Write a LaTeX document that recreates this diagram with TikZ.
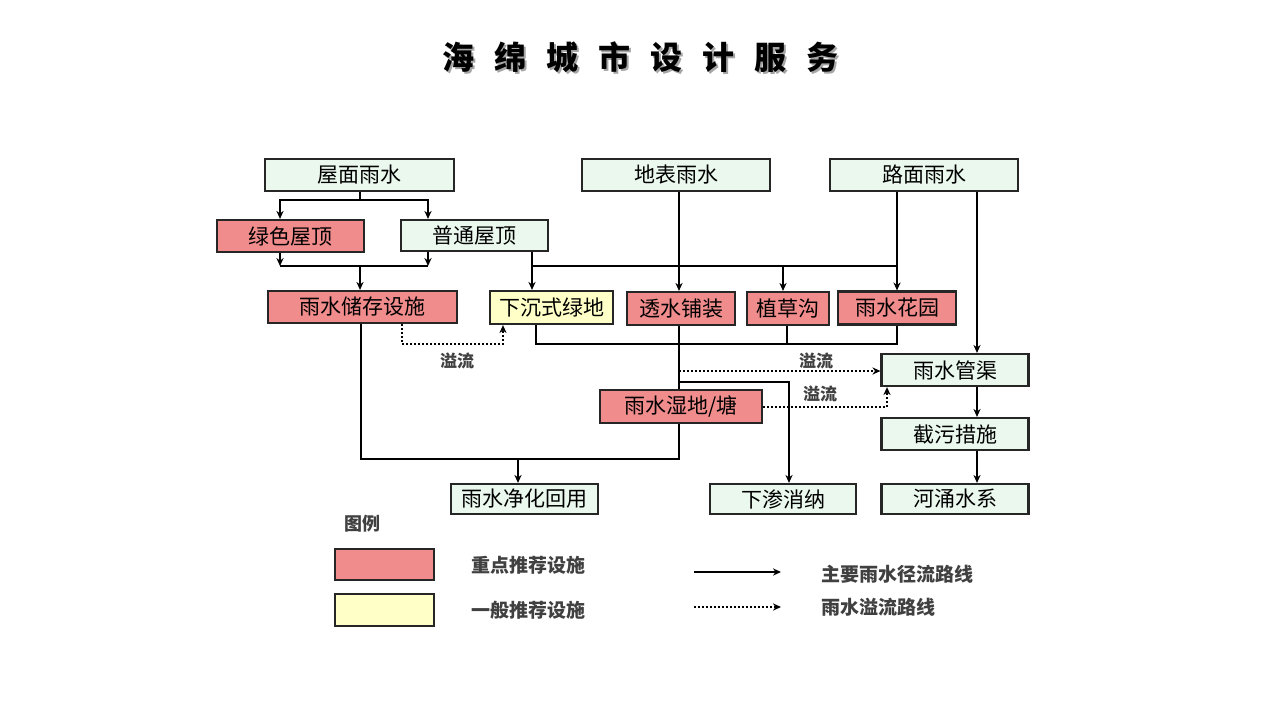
\documentclass[tikz,border=0pt]{standalone}
\usepackage{fontspec}
\setmainfont{Noto Sans CJK SC}
\usetikzlibrary{arrows.meta}

\definecolor{boxgreen}{RGB}{234,248,238}
\definecolor{boxred}{RGB}{240,140,140}
\definecolor{boxyellow}{RGB}{255,255,200}

\begin{document}
\begin{tikzpicture}
	[x=0.5pt, y=-0.5pt, line width=1pt,
	>={Stealth[length=4pt,width=3.6pt]},
	box/.style={draw=black!85, line width=1.1pt, fill=boxgreen, inner sep=0pt,
		minimum height=16pt, font=\fontsize{10.5}{10.5}\selectfont},
	facbox/.style={box, fill=boxred},
	optbox/.style={box, fill=boxyellow},
	spill/.style={dash pattern=on 1pt off 1pt, line width=1.1pt},
	note/.style={font=\fontsize{8.5}{8.5}\selectfont\bfseries, text=black!75},
	legtext/.style={anchor=west, inner sep=0pt, font=\fontsize{9.5}{9.5}\selectfont\bfseries, text=black!75}]
	\useasboundingbox (0,0) rectangle (1280,720);
	% title
	\node (shadow) [text=black!35, font=\fontsize{16}{16}\selectfont\bfseries] at (642,59)
		{海\hspace{10pt}绵\hspace{10pt}城\hspace{10pt}市\hspace{10pt}设\hspace{10pt}计\hspace{10pt}服\hspace{10pt}务};
	\node (title) [font=\fontsize{16}{16}\selectfont\bfseries] at (640,57)
		{海\hspace{10pt}绵\hspace{10pt}城\hspace{10pt}市\hspace{10pt}设\hspace{10pt}计\hspace{10pt}服\hspace{10pt}务};
	% sources
	\node (wmys) [box, minimum width=94.5pt] at (359.5,175) {屋面雨水};
	\node (dbys) [box, minimum width=94pt] at (676,175) {地表雨水};
	\node (lmys) [box, minimum width=94pt] at (924,175) {路面雨水};
	\node (lswd) [facbox, minimum width=73.5pt] at (290.5,236) {绿色屋顶};
	\node (ptwd) [box, minimum width=73.5pt, minimum height=15.5pt] at (474.5,235.5) {普通屋顶};
	% facilities
	\node (ccss) [facbox, minimum width=94.5pt] at (362.5,307) {雨水储存设施};
	\node (xcld) [optbox, minimum width=61.5pt, minimum height=16.5pt] at (551.5,307.5) {下沉式绿地};
	\node (tspz) [facbox, minimum width=54pt, minimum height=16.5pt] at (681,308.5) {透水铺装};
	\node (zcg) [facbox, minimum width=41pt, minimum height=16.5pt] at (788,308.5) {植草沟};
	\node (yshy) [facbox, minimum width=59pt, minimum height=16.5pt] at (897,308) {雨水花园};
	\node (sd) [facbox, minimum width=81pt, minimum height=16.5pt] at (681,406.5) {雨水湿地/塘};
	\node (gq) [box, minimum width=73.5pt] at (955,370) {雨水管渠};
	\node (jw) [box, minimum width=73.5pt] at (955,434) {截污措施};
	% outlets
	\node (hy) [box, minimum width=73.5pt, minimum height=15pt] at (524.5,499) {雨水净化回用};
	\node (xs) [box, minimum width=73pt, minimum height=15pt] at (783,499) {下渗消纳};
	\node (hc) [box, minimum width=73.5pt, minimum height=15pt] at (955,499) {河涌水系};

	% roof runoff
	\coordinate (r1) at (280,200);
	\coordinate (r2) at (428,200);
	\coordinate (r3) at (280,266);
	\coordinate (r4) at (428,266);
	\draw (wmys) -- (wmys |- r1);
	\draw [<->] (lswd.north -| r1) -- (r1) -- (r2) -- (ptwd.north -| r2);
	\draw [->] (lswd.south -| r3) -- (r3);
	\draw [->] (ptwd.south -| r4) -- (r4);
	\draw (r3) -- (r4);
	\draw [->] (360,266) -- (ccss.north -| 360,0);
	% surface and road runoff
	\coordinate (g1) at (532,266);
	\coordinate (g2) at (897,266);
	\coordinate (c1) at (679,344);
	\coordinate (p1) at (977,300);
	\draw [->] (ptwd.south -| g1) -- (xcld.north -| g1);
	\draw (g1) -- (g2);
	\draw [->] (g1 -| 783,0) -- (zcg.north -| 783,0);
	\draw [->] (lmys.south -| g2) -- (yshy.north -| g2);
	\draw [->] (dbys.south -| c1) -- (tspz.north -| c1);
	\draw [->] (lmys.south -| p1) -- (gq.north -| p1);
	% collector
	\coordinate (k1) at (536,344);
	\coordinate (k2) at (897,344);
	\draw (xcld.south -| k1) -- (k1) -- (k2) -- (yshy.south -| k2);
	\draw (zcg.south -| 787,0) -- (787,344);
	\draw (tspz.south -| c1) -- (sd.north -| c1);
	% overflow and infiltration
	\coordinate (o1) at (679,371);
	\coordinate (o2) at (679,382);
	\coordinate (o3) at (789,382);
	\coordinate (o4) at (887,407);
	\draw [spill, ->] (o1) -- (o1 -| gq.west);
	\node (yl1) [note] at (816,361) {溢流};
	\draw [->] (o2) -- (o3) -- (xs.north -| o3);
	\draw [spill, ->] (sd.east |- o4) -- (o4) -- (gq.south -| o4);
	\node (yl2) [note] at (820,394) {溢流};
	% reuse
	\coordinate (b1) at (361,459);
	\coordinate (b2) at (679,459);
	\coordinate (b3) at (518,459);
	\draw (sd.south -| b2) -- (b2) -- (b1) -- (ccss.south -| b1);
	\draw [->] (b3) -- (hy.north -| b3);
	\coordinate (d1) at (402,344);
	\coordinate (d2) at (503,344);
	\draw [spill, ->] (ccss.south -| d1) -- (d1) -- (d2) -- (xcld.south -| d2);
	\node (yl3) [note] at (457,361) {溢流};
	% river
	\draw [->] (gq.south -| p1) -- (jw.north -| p1);
	\draw [->] (jw.south -| p1) -- (hc.north -| p1);

	% legend
	\node (tl) [font=\fontsize{9}{9}\selectfont\bfseries, text=black!75] at (362,524) {图例};
	\node (lr) [facbox, minimum width=49.5pt, minimum height=15.5pt] at (384.5,564.5) {};
	\node (ly) [optbox, minimum width=49.5pt, minimum height=16pt] at (384.5,610) {};
	\node (lrt) [legtext] at (470,565) {重点推荐设施};
	\node (lyt) [legtext] at (470,610) {一般推荐设施};
	\coordinate (l1) at (694,572);
	\coordinate (l2) at (781,572);
	\coordinate (l3) at (694,607);
	\coordinate (l4) at (781,607);
	\draw [->] (l1) -- (l2);
	\draw [spill, ->] (l3) -- (l4);
	\node (lat) [legtext] at (820,574) {主要雨水径流路线};
	\node (lst) [legtext] at (820,607) {雨水溢流路线};
\end{tikzpicture}
\end{document}
